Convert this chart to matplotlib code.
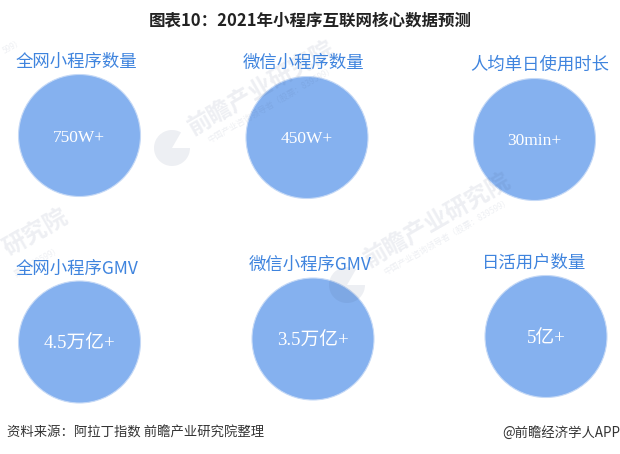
import matplotlib.pyplot as plt
from matplotlib.patches import Circle, Wedge

plt.rcParams['font.family'] = ['Noto Sans CJK SC', 'DejaVu Sans']

chart_title = "图表10：2021年小程序互联网核心数据预测"
source_text = "资料来源：阿拉丁指数 前瞻产业研究院整理"
credit_text = "@前瞻经济学人APP"

labels = ["全网小程序数量", "微信小程序数量", "人均单日使用时长",
          "全网小程序GMV", "微信小程序GMV", "日活用户数量"]
values = ["750W+", "450W+", "30min+", "4.5万亿+", "3.5万亿+", "5亿+"]

# circle centres in image pixels
centre_x = [79.5, 307, 534.5, 79.5, 313, 546]
centre_y = [135.5, 137.5, 139.5, 342, 339, 336.5]
label_x = [76, 304, 540, 77, 310, 534]
label_y = [62, 63, 65, 269, 265, 263]
value_x = [79, 307, 534, 79, 313, 546]
value_y = [138, 139, 141, 344, 341, 338]
value_size = [12.5, 12.5, 12.5, 13.5, 13.5, 13.5]

BLUE = "#85b1ef"
LABEL_BLUE = "#3f84de"
RADIUS = 61

fig = plt.figure(figsize=(6.2, 4.54), dpi=100)
ax = fig.add_axes([0, 0, 1, 1])
ax.set_xlim(0, 620)
ax.set_ylim(454, 0)
ax.axis("off")

for cx, cy in zip(centre_x, centre_y):
    ax.add_patch(Circle((cx, cy), RADIUS, facecolor=BLUE, edgecolor="#c5d9f6", linewidth=0.8, zorder=2))

for x, y, s in zip(label_x, label_y, labels):
    ax.text(x, y, s, color=LABEL_BLUE, fontsize=12.5, ha="center", va="center", zorder=4)

for x, y, s, fs in zip(value_x, value_y, values, value_size):
    ax.text(x, y, s, color="white", fontsize=fs, ha="center", va="center", zorder=4,
            family=['Liberation Serif', 'Noto Sans CJK SC'])

ax.text(310, 20, chart_title, color="#222222", fontsize=11.9, fontweight="bold", ha="center", va="center")
ax.text(7, 433, source_text, color="#333333", fontsize=9.6, ha="left", va="center")
ax.text(620, 433, credit_text, color="#333333", fontsize=9.6, ha="right", va="center")

# faint watermarks, dark with low alpha so they also tint the circles
WM = "#3b4f7a"
WM_ALPHA = 0.09
for lx, ly in [(172, 148), (347, 285)]:
    ax.add_patch(Wedge((lx, ly), 18, 0, 300, facecolor=WM, edgecolor="none", alpha=WM_ALPHA, zorder=3))
for name_x, name_y in [(262, 88), (438, 220)]:
    ax.text(name_x, name_y, "前瞻产业研究院", color=WM, alpha=WM_ALPHA, fontsize=17, fontweight="bold", rotation=30,
            ha="center", va="center", rotation_mode="anchor", zorder=3)
    ax.text(name_x + 9, name_y + 17, "中国产业咨询领导者（股票：839599）", color=WM, alpha=WM_ALPHA, fontsize=6, rotation=30,
            ha="center", va="center", rotation_mode="anchor", zorder=3)
# the parts of other watermarks that stay inside the picture
ax.text(36, 232, "研究院", color=WM, alpha=WM_ALPHA, fontsize=17, fontweight="bold", rotation=30,
        ha="center", va="center", rotation_mode="anchor", zorder=3)
ax.text(38, 262, "票：839599）", color=WM, alpha=WM_ALPHA, fontsize=6, rotation=30,
        ha="center", va="center", rotation_mode="anchor", zorder=3)
ax.text(13, 46, "599）", color=WM, alpha=WM_ALPHA, fontsize=6, rotation=30,
        ha="center", va="center", rotation_mode="anchor", zorder=3)

fig.savefig("out.png", dpi=100)
plt.close(fig)
